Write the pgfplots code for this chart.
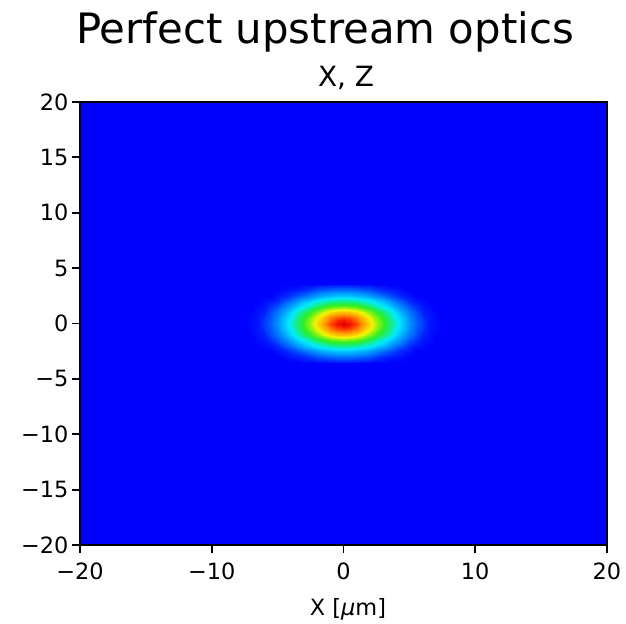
\documentclass[border=0pt]{standalone}
\usepackage{fontspec}
\setmainfont{DejaVu Sans}
\usepackage{pgfplots}
\pgfplotsset{compat=1.18}
\definecolor{bgblue}{RGB}{0,0,255}
\begin{document}
\begin{tikzpicture}
\useasboundingbox (-80bp,-79bp) rectangle (546bp,545bp);
\begin{axis}[
  at={(0,0)}, anchor=south west,
  scale only axis, width=527bp, height=443bp,
  xmin=-20, xmax=20, ymin=-20, ymax=20,
  axis on top,
  axis background/.style={fill=bgblue},
  colormap={refjet}{rgb255(0cm)=(0,0,255); rgb255(12cm)=(0,120,255); rgb255(28cm)=(0,235,255); rgb255(45cm)=(40,240,40); rgb255(62cm)=(245,245,0); rgb255(78cm)=(255,140,0); rgb255(90cm)=(255,30,0); rgb255(100cm)=(215,0,0)},
  point meta min=0, point meta max=1,
  xtick={-20,-10,0,10,20},
  xticklabels={−20,−10,0,10,20},
  ytick={-20,-15,-10,-5,0,5,10,15,20},
  yticklabels={−20,−15,−10,−5,0,5,10,15,20},
  xtick pos=bottom, ytick pos=left,
  tick align=outside,
  major tick length=8bp,
  every tick/.style={black, line width=1.8bp},
  axis line style={line width=1.8bp},
  /pgf/number format/assume math mode=true,
  tick label style={font=\fontsize{22.5}{27}\selectfont},
  xticklabel style={yshift=-6bp},
]
\addplot[surf, shader=interp, mesh/cols=31, point meta=explicit] table[x=x, y=y, meta=z] {
x y z
-7.5 -3.5 0
-7 -3.5 0
-6.5 -3.5 0
-6 -3.5 0
-5.5 -3.5 0
-5 -3.5 0
-4.5 -3.5 0
-4 -3.5 0
-3.5 -3.5 0
-3 -3.5 .01
-2.5 -3.5 .01
-2 -3.5 .02
-1.5 -3.5 .02
-1 -3.5 .03
-0.5 -3.5 .03
0 -3.5 .03
0.5 -3.5 .03
1 -3.5 .03
1.5 -3.5 .02
2 -3.5 .02
2.5 -3.5 .01
3 -3.5 .01
3.5 -3.5 0
4 -3.5 0
4.5 -3.5 0
5 -3.5 0
5.5 -3.5 0
6 -3.5 0
6.5 -3.5 0
7 -3.5 0
7.5 -3.5 0

-7.5 -3 0
-7 -3 0
-6.5 -3 0
-6 -3 0
-5.5 -3 0
-5 -3 0
-4.5 -3 .01
-4 -3 .02
-3.5 -3 .03
-3 -3 .04
-2.5 -3 .06
-2 -3 .08
-1.5 -3 .09
-1 -3 .10
-0.5 -3 .11
0 -3 .11
0.5 -3 .11
1 -3 .10
1.5 -3 .09
2 -3 .08
2.5 -3 .06
3 -3 .04
3.5 -3 .03
4 -3 .02
4.5 -3 .01
5 -3 0
5.5 -3 0
6 -3 0
6.5 -3 0
7 -3 0
7.5 -3 0

-7.5 -2.5 0
-7 -2.5 0
-6.5 -2.5 0
-6 -2.5 0
-5.5 -2.5 0
-5 -2.5 .02
-4.5 -2.5 .03
-4 -2.5 .06
-3.5 -2.5 .08
-3 -2.5 .11
-2.5 -2.5 .14
-2 -2.5 .17
-1.5 -2.5 .20
-1 -2.5 .21
-0.5 -2.5 .23
0 -2.5 .23
0.5 -2.5 .23
1 -2.5 .21
1.5 -2.5 .20
2 -2.5 .17
2.5 -2.5 .14
3 -2.5 .11
3.5 -2.5 .08
4 -2.5 .06
4.5 -2.5 .03
5 -2.5 .02
5.5 -2.5 0
6 -2.5 0
6.5 -2.5 0
7 -2.5 0
7.5 -2.5 0

-7.5 -2 0
-7 -2 0
-6.5 -2 0
-6 -2 .01
-5.5 -2 .02
-5 -2 .04
-4.5 -2 .08
-4 -2 .11
-3.5 -2 .16
-3 -2 .21
-2.5 -2 .25
-2 -2 .29
-1.5 -2 .32
-1 -2 .35
-0.5 -2 .36
0 -2 .37
0.5 -2 .36
1 -2 .35
1.5 -2 .32
2 -2 .29
2.5 -2 .25
3 -2 .21
3.5 -2 .16
4 -2 .11
4.5 -2 .08
5 -2 .04
5.5 -2 .02
6 -2 .01
6.5 -2 0
7 -2 0
7.5 -2 0

-7.5 -1.5 0
-7 -1.5 0
-6.5 -1.5 .01
-6 -1.5 .02
-5.5 -1.5 .05
-5 -1.5 .09
-4.5 -1.5 .13
-4 -1.5 .19
-3.5 -1.5 .24
-3 -1.5 .30
-2.5 -1.5 .36
-2 -1.5 .41
-1.5 -1.5 .46
-1 -1.5 .49
-0.5 -1.5 .51
0 -1.5 .52
0.5 -1.5 .51
1 -1.5 .49
1.5 -1.5 .46
2 -1.5 .41
2.5 -1.5 .36
3 -1.5 .30
3.5 -1.5 .24
4 -1.5 .19
4.5 -1.5 .13
5 -1.5 .09
5.5 -1.5 .05
6 -1.5 .02
6.5 -1.5 .01
7 -1.5 0
7.5 -1.5 0

-7.5 -1 0
-7 -1 0
-6.5 -1 .02
-6 -1 .03
-5.5 -1 .08
-5 -1 .12
-4.5 -1 .18
-4 -1 .25
-3.5 -1 .32
-3 -1 .39
-2.5 -1 .46
-2 -1 .52
-1.5 -1 .59
-1 -1 .65
-0.5 -1 .69
0 -1 .70
0.5 -1 .69
1 -1 .65
1.5 -1 .59
2 -1 .52
2.5 -1 .46
3 -1 .39
3.5 -1 .32
4 -1 .25
4.5 -1 .18
5 -1 .12
5.5 -1 .08
6 -1 .03
6.5 -1 .02
7 -1 0
7.5 -1 0

-7.5 -0.5 0
-7 -0.5 .01
-6.5 -0.5 .02
-6 -0.5 .05
-5.5 -0.5 .09
-5 -0.5 .15
-4.5 -0.5 .22
-4 -0.5 .29
-3.5 -0.5 .37
-3 -0.5 .45
-2.5 -0.5 .53
-2 -0.5 .62
-1.5 -0.5 .71
-1 -0.5 .79
-0.5 -0.5 .85
0 -0.5 .87
0.5 -0.5 .85
1 -0.5 .79
1.5 -0.5 .71
2 -0.5 .62
2.5 -0.5 .53
3 -0.5 .45
3.5 -0.5 .37
4 -0.5 .29
4.5 -0.5 .22
5 -0.5 .15
5.5 -0.5 .09
6 -0.5 .05
6.5 -0.5 .02
7 -0.5 .01
7.5 -0.5 0

-7.5 0 0
-7 0 .01
-6.5 0 .02
-6 0 .06
-5.5 0 .10
-5 0 .16
-4.5 0 .23
-4 0 .31
-3.5 0 .39
-3 0 .47
-2.5 0 .56
-2 0 .66
-1.5 0 .76
-1 0 .85
-0.5 0 .93
0 0 1.00
0.5 0 .93
1 0 .85
1.5 0 .76
2 0 .66
2.5 0 .56
3 0 .47
3.5 0 .39
4 0 .31
4.5 0 .23
5 0 .16
5.5 0 .10
6 0 .06
6.5 0 .02
7 0 .01
7.5 0 0

-7.5 0.5 0
-7 0.5 .01
-6.5 0.5 .02
-6 0.5 .05
-5.5 0.5 .09
-5 0.5 .15
-4.5 0.5 .22
-4 0.5 .29
-3.5 0.5 .37
-3 0.5 .45
-2.5 0.5 .53
-2 0.5 .62
-1.5 0.5 .71
-1 0.5 .79
-0.5 0.5 .85
0 0.5 .87
0.5 0.5 .85
1 0.5 .79
1.5 0.5 .71
2 0.5 .62
2.5 0.5 .53
3 0.5 .45
3.5 0.5 .37
4 0.5 .29
4.5 0.5 .22
5 0.5 .15
5.5 0.5 .09
6 0.5 .05
6.5 0.5 .02
7 0.5 .01
7.5 0.5 0

-7.5 1 0
-7 1 0
-6.5 1 .02
-6 1 .03
-5.5 1 .08
-5 1 .12
-4.5 1 .18
-4 1 .25
-3.5 1 .32
-3 1 .39
-2.5 1 .46
-2 1 .52
-1.5 1 .59
-1 1 .65
-0.5 1 .69
0 1 .70
0.5 1 .69
1 1 .65
1.5 1 .59
2 1 .52
2.5 1 .46
3 1 .39
3.5 1 .32
4 1 .25
4.5 1 .18
5 1 .12
5.5 1 .08
6 1 .03
6.5 1 .02
7 1 0
7.5 1 0

-7.5 1.5 0
-7 1.5 0
-6.5 1.5 .01
-6 1.5 .02
-5.5 1.5 .05
-5 1.5 .09
-4.5 1.5 .13
-4 1.5 .19
-3.5 1.5 .24
-3 1.5 .30
-2.5 1.5 .36
-2 1.5 .41
-1.5 1.5 .46
-1 1.5 .49
-0.5 1.5 .51
0 1.5 .52
0.5 1.5 .51
1 1.5 .49
1.5 1.5 .46
2 1.5 .41
2.5 1.5 .36
3 1.5 .30
3.5 1.5 .24
4 1.5 .19
4.5 1.5 .13
5 1.5 .09
5.5 1.5 .05
6 1.5 .02
6.5 1.5 .01
7 1.5 0
7.5 1.5 0

-7.5 2 0
-7 2 0
-6.5 2 0
-6 2 .01
-5.5 2 .02
-5 2 .04
-4.5 2 .08
-4 2 .11
-3.5 2 .16
-3 2 .21
-2.5 2 .25
-2 2 .29
-1.5 2 .32
-1 2 .35
-0.5 2 .36
0 2 .37
0.5 2 .36
1 2 .35
1.5 2 .32
2 2 .29
2.5 2 .25
3 2 .21
3.5 2 .16
4 2 .11
4.5 2 .08
5 2 .04
5.5 2 .02
6 2 .01
6.5 2 0
7 2 0
7.5 2 0

-7.5 2.5 0
-7 2.5 0
-6.5 2.5 0
-6 2.5 0
-5.5 2.5 0
-5 2.5 .02
-4.5 2.5 .03
-4 2.5 .06
-3.5 2.5 .08
-3 2.5 .11
-2.5 2.5 .14
-2 2.5 .17
-1.5 2.5 .20
-1 2.5 .21
-0.5 2.5 .23
0 2.5 .23
0.5 2.5 .23
1 2.5 .21
1.5 2.5 .20
2 2.5 .17
2.5 2.5 .14
3 2.5 .11
3.5 2.5 .08
4 2.5 .06
4.5 2.5 .03
5 2.5 .02
5.5 2.5 0
6 2.5 0
6.5 2.5 0
7 2.5 0
7.5 2.5 0

-7.5 3 0
-7 3 0
-6.5 3 0
-6 3 0
-5.5 3 0
-5 3 0
-4.5 3 .01
-4 3 .02
-3.5 3 .03
-3 3 .04
-2.5 3 .06
-2 3 .08
-1.5 3 .09
-1 3 .10
-0.5 3 .11
0 3 .11
0.5 3 .11
1 3 .10
1.5 3 .09
2 3 .08
2.5 3 .06
3 3 .04
3.5 3 .03
4 3 .02
4.5 3 .01
5 3 0
5.5 3 0
6 3 0
6.5 3 0
7 3 0
7.5 3 0

-7.5 3.5 0
-7 3.5 0
-6.5 3.5 0
-6 3.5 0
-5.5 3.5 0
-5 3.5 0
-4.5 3.5 0
-4 3.5 0
-3.5 3.5 0
-3 3.5 .01
-2.5 3.5 .01
-2 3.5 .02
-1.5 3.5 .02
-1 3.5 .03
-0.5 3.5 .03
0 3.5 .03
0.5 3.5 .03
1 3.5 .03
1.5 3.5 .02
2 3.5 .02
2.5 3.5 .01
3 3.5 .01
3.5 3.5 0
4 3.5 0
4.5 3.5 0
5 3.5 0
5.5 3.5 0
6 3.5 0
6.5 3.5 0
7 3.5 0
7.5 3.5 0
};
\end{axis}
\node[anchor=base, font=\fontsize{42}{50}\selectfont, inner sep=0pt] at (245bp,501bp) {Perfect upstream optics};
\node[anchor=base, font=\fontsize{28}{34}\selectfont, inner sep=0pt] at (266bp,458bp) {X, Z};
\node[anchor=base, font=\fontsize{22.5}{27}\selectfont, inner sep=0pt] at (268bp,-70bp) {X [\textit{μ}m]};
\end{tikzpicture}
\end{document}
